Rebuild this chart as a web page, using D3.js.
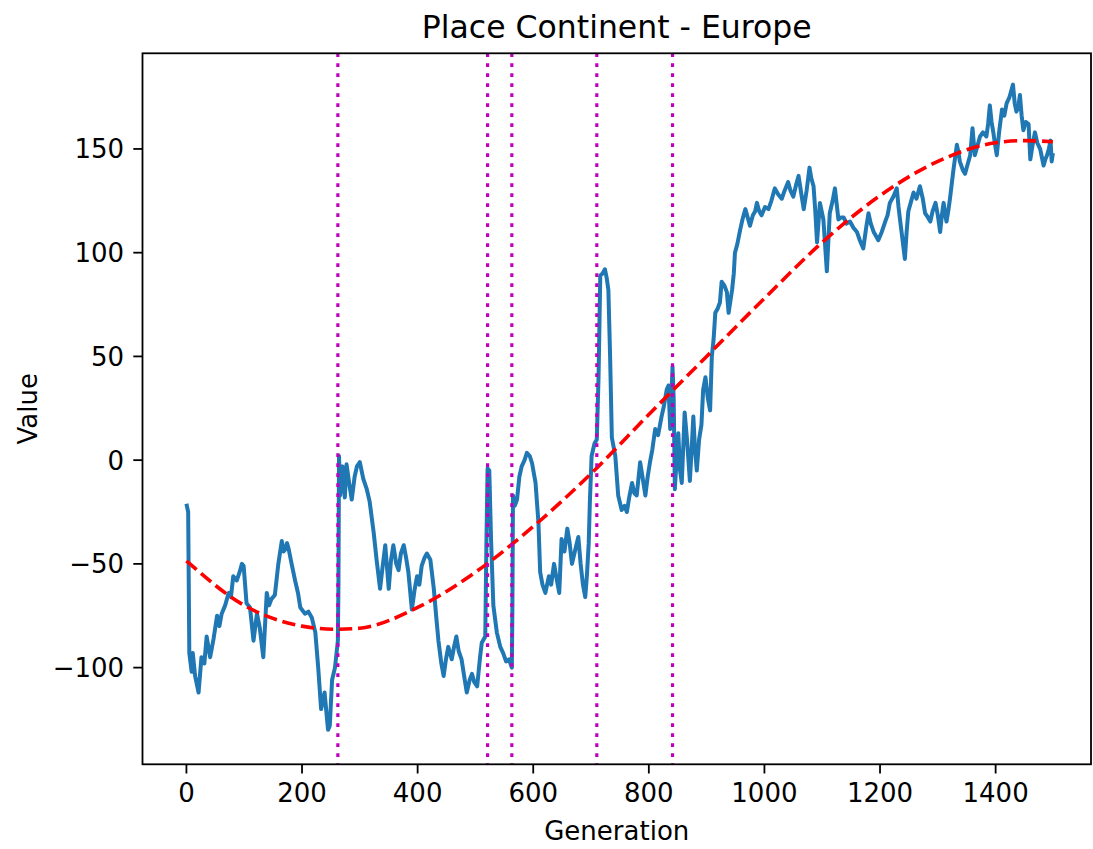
<!DOCTYPE html>
<html lang="en">
  <head>
    <meta charset="UTF-8">
    <title>Place Continent - Europe</title>
    <style>
      body { margin: 0; background: white; }
      text { font-family: "DejaVu Sans", sans-serif; fill: black; }
      .tick-label { font-size: 26px; }
      .axis-label { font-size: 26px; }
      .title { font-size: 31.5px; }
    </style>
    <script src="https://d3js.org/d3.v7.min.js"></script>
  </head>
  <body>
    <script>
      // observed series (generation, value)
      const generations = [0,3,5,9,11,15,21,26,31,35,41,47,53,57,61,67,73,77,81,87,92,96,99,104,110,116,122,127,133,139,143,147,153,159,165,168,171,174,177,182,188,193,197,205,211,217,223,228,233,239,245,248,252,257,262,263,264,
        266,270,274,277,282,286,291,295,300,306,312,317,324,329,335,340,344,350,354,358,363,367,371,376,380,384,390,395,399,403,407,412,416,422,428,432,436,441,445,449,453,459,463,467,471,476,481,485,490,494,498,503,508,511,517,519,521,524,527,531,537,543,
        548,553,558,563,564,565,
        568,572,576,580,585,589,594,598,604,609,612,616,621,624,627,631,636,641,645,649,654,659,663,667,672,678,682,686,690,693,696,698,701,706,710,713,716,720,724,727,730,733,736,742,747,753,758,762,766,771,775,779,785,789,794,798,802,806,811,816,822,826,831,834,837,841,843,845,
        848,851,854,857,862,866,871,874,877,880,883,887,891,894,898,902,906,909,912,915,919,923,926,931,935,938,944,947,949,953,958,962,967,971,975,980,984,987,991,995,1001,1007,1012,1018,1024,1030,1035,1041,1045,1050,1055,1059,1064,1068,1073,1078,1081,1085,1088,1091,1096,1102,1108,1113,1118,1122,1128,1133,1137,1142,1148,1154,1160,1165,1171,1176,1180,1184,1189,1193,1197,1203,1209,1213,1217,1223,1229,1232,1235,1239,1243,1246,1249,1253,1258,1263,1269,1274,1278,1283,1287,1291,1296,1300,1304,1307,1310,1313,1315,1318,1321,1324,1327,1330,1333,1336,1338,1343,1347,1351,1356,1360,1364,1369,1373,1378,1384,1387,1390,1393,1396,1399,1402,1406,1411,1415,1419,1424,1430,1433,1436,1439,1442,1445,1448,1452,1457,1460,1464,1468,1472,1477,1480,1483,1486,1489,1492,1495,1497,1499];
      const values = [-21,-25,-93,-102,-93,-104,-112,-95,-98,-85,-95,-86,-75,-80,-74,-70,-64,-66,-56,-58,-54,-50,-51,-69,-71,-87,-74,-81,-95,-64,-70,-67,-65,-50,-39,-44,-43,-40,-43,-50,-58,-64,-71,-74,-73,-76,-83,-100,-120,-112,-130,-128,-106,-100,-87,-60,2,
        -17,-3,-18,-2,-12,-19,-8,-3,-1,-9,-14,-20,-35,-48,-62,-50,-41,-62,-48,-41,-50,-53,-45,-41,-47,-54,-72,-62,-56,-60,-51,-47,-45,-48,-62,-75,-87,-98,-104,-96,-90,-96,-90,-85,-92,-96,-105,-112,-106,-103,-107,-109,-95,-88,-85,-40,-4,-5,-38,-70,-83,-90,
        -93,-97,-96,-100,-70,-17,
        -22,-19,-8,-3,0,3.5,2,-1.5,-11,-30,-54,-60,-64,-60,-56,-60,-50,-58,-64,-38,-44,-33,-40,-50,-44,-37,-50,-60,-66,-55,-40,-20,2,8,10,40,89,90,92,88,82,50,11,2,-17,-24,-22,-25,-18,-11,-16,-17,-1,-8,-17,-8,-1,5,15,12,21,26,34,36,15,45,30,-14,
        0,13,-5,-11,23,10,-10,5,21,5,-5,10,17,34,40,30,24,50,58,71,73,76,86,84,81,71,82,90,100,104,111,116,121,117,113,118,120,124,120,118,122,121,125,131,128,126,130,134,130,127,133,137,128,121,130,141,136,132,120,105,124,116,91,119,125,131,116,117,117,114,115,112,110,106,102,112,119,114,110,108,106,110,115,118,124,127,131,122,115,106,97,110,120,124,129,126,132,126,119,117,115,120,124,118,110,118,124,118,115,120,126,133,140,146,152,148,144,140,138,142,147,160,147,152,156,158,156,162,171,163,158,152,147,158,169,166,172,175,181,172,168,170,176,166,159,163,162,145,152,158,153,150,146,142,145,147,150,154,144,148];

      // fitted trend
      const fitGenerations = [0, 100, 200, 260, 300, 400, 500, 600, 700, 800, 900, 1000, 1100, 1200, 1300, 1400, 1450, 1499];
      const fitValues = [-48.5, -70, -80, -81.5, -81, -71, -54, -32, -6.5, 22, 50, 78, 105, 127.5, 144, 153, 154, 153.5];

      // change points
      const changePoints = [262, 521, 563, 710, 841];

      const xTicks = [0, 200, 400, 600, 800, 1000, 1200, 1400];
      const yTicks = [-100, -50, 0, 50, 100, 150];

      const totalWidth = 1093;
      const totalHeight = 849;
      const margin = { top: 53.3, right: 2, bottom: 84.7, left: 142.5 };
      const width = totalWidth - margin.left - margin.right;
      const height = totalHeight - margin.top - margin.bottom;

      const svg = d3.select("body")
        .append("svg")
        .attr("width", totalWidth)
        .attr("height", totalHeight);

      const g = svg.append("g")
        .attr("transform", `translate(${margin.left},${margin.top})`);

      const x = d3.scaleLinear().domain([-76, 1565]).range([0, width]);
      const y = d3.scaleLinear().domain([-146.6, 196.1]).range([height, 0]);

      g.append("clipPath")
        .attr("id", "plot-clip")
        .append("rect")
        .attr("width", width)
        .attr("height", height);

      const plot = g.append("g").attr("clip-path", "url(#plot-clip)");

      const series = generations.map((gen, i) => ({ gen: gen, value: values[i] }));
      const fit = fitGenerations.map((gen, i) => ({ gen: gen, value: fitValues[i] }));

      plot.append("path")
        .datum(series)
        .attr("fill", "none")
        .attr("stroke", "#1f77b4")
        .attr("stroke-width", 4)
        .attr("stroke-linejoin", "round")
        .attr("d", d3.line().x(d => x(d.gen)).y(d => y(d.value)));

      plot.append("path")
        .datum(fit)
        .attr("fill", "none")
        .attr("stroke", "#ff0000")
        .attr("stroke-width", 3.6)
        .attr("stroke-dasharray", "13.3,5.8")
        .attr("d", d3.line().curve(d3.curveMonotoneX).x(d => x(d.gen)).y(d => y(d.value)));

      plot.selectAll(".change")
        .data(changePoints)
        .enter()
        .append("line")
        .attr("class", "change")
        .attr("x1", d => x(d))
        .attr("x2", d => x(d))
        .attr("y1", 0)
        .attr("y2", height)
        .attr("stroke", "#bf00bf")
        .attr("stroke-width", 3.2)
        .attr("stroke-dasharray", "3.6,6.4");

      // frame
      g.append("rect")
        .attr("width", width)
        .attr("height", height)
        .attr("fill", "none")
        .attr("stroke", "black")
        .attr("stroke-width", 1.8);

      // x axis
      const xAxis = g.append("g").attr("transform", `translate(0,${height})`);
      xAxis.selectAll("line")
        .data(xTicks)
        .enter()
        .append("line")
        .attr("x1", d => x(d))
        .attr("x2", d => x(d))
        .attr("y1", 0)
        .attr("y2", 9.2)
        .attr("stroke", "black")
        .attr("stroke-width", 1.8);
      xAxis.selectAll("text")
        .data(xTicks)
        .enter()
        .append("text")
        .attr("class", "tick-label")
        .attr("text-anchor", "middle")
        .attr("x", d => x(d))
        .attr("y", 38)
        .text(d => d);

      // y axis
      const yAxis = g.append("g");
      yAxis.selectAll("line")
        .data(yTicks)
        .enter()
        .append("line")
        .attr("x1", -9.2)
        .attr("x2", 0)
        .attr("y1", d => y(d))
        .attr("y2", d => y(d))
        .attr("stroke", "black")
        .attr("stroke-width", 1.8);
      yAxis.selectAll("text")
        .data(yTicks)
        .enter()
        .append("text")
        .attr("class", "tick-label")
        .attr("text-anchor", "end")
        .attr("x", -18.4)
        .attr("y", d => y(d))
        .attr("dy", "0.36em")
        .text(d => d < 0 ? "\u2212" + Math.abs(d) : d);

      svg.append("text")
        .attr("class", "axis-label")
        .attr("text-anchor", "middle")
        .attr("x", margin.left + width / 2)
        .attr("y", 840)
        .text("Generation");

      svg.append("text")
        .attr("class", "axis-label")
        .attr("text-anchor", "middle")
        .attr("transform", `translate(37,${margin.top + height / 2}) rotate(-90)`)
        .text("Value");

      svg.append("text")
        .attr("class", "title")
        .attr("text-anchor", "middle")
        .attr("x", margin.left + width / 2)
        .attr("y", 37.5)
        .text("Place Continent - Europe");
    </script>
  </body>
</html>
